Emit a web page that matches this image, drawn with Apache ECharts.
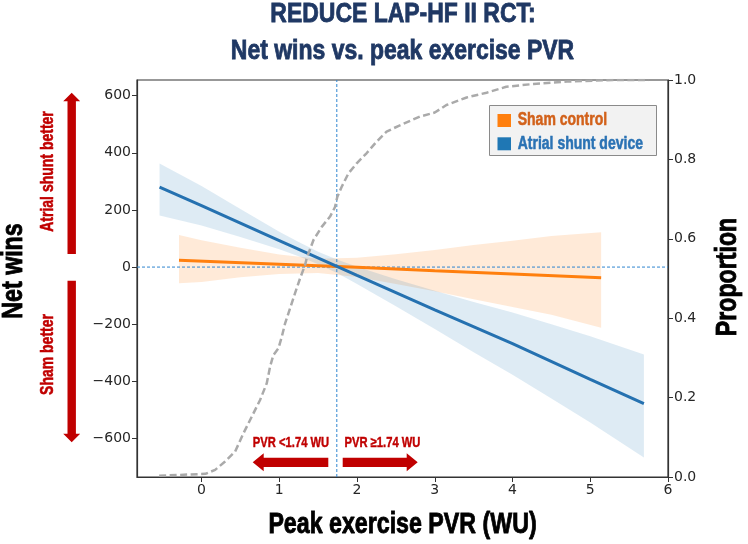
<!DOCTYPE html>
<html>
<head>
<meta charset="utf-8">
<script src="https://cdn.jsdelivr.net/npm/echarts@6/dist/echarts.min.js"></script>
<style>
html,body{margin:0;padding:0;background:#fff;}
#chart{width:748px;height:544px;}
</style>
</head>
<body>
<div id="chart"></div>
<script>
// ---------------- data ----------------
const xTicks = [0, 1, 2, 3, 4, 5, 6];
const yLeftTicks = [-600, -400, -200, 0, 200, 400, 600];
const xRange = [-0.83, 6];
const yLeftRange = [-735, 655];
const cutoff = 1.74;
const legendNames = ['Sham control', 'Atrial shunt device'];

// Atrial shunt device: fitted net wins
const shuntLine = [[-0.54, 280], [0, 215], [1, 93], [2, -29], [3, -150], [4, -268], [5, -393], [5.69, -478]];
// Atrial shunt device: confidence band [x, lower, upper]
const shuntBand = [[-0.54, 181, 363], [0, 146, 284], [0.5, 105, 203], [1, 62, 124], [1.25, 38, 88], [1.5, 10, 54],
  [1.75, -22, 26], [2, -59, 1], [2.5, -137, -43], [3, -217, -83], [3.5, -298, -122], [4, -377, -159],
  [4.5, -460, -200], [5, -544, -242], [5.69, -667, -306]];

// Sham control: fitted net wins
const shamLine = [[-0.29, 24], [1, 10], [2, -1], [3, -13], [4, -24], [5.14, -37]];
// Sham control: confidence band [x, lower, upper]
const shamBand = [[-0.29, -57, 112], [0, -52, 94], [0.5, -36, 68], [1, -24, 44], [1.5, -21, 29], [2, -35, 33],
  [2.5, -59, 45], [3, -85, 60], [3.5, -113, 77], [4, -140, 92], [4.5, -167, 109], [5.14, -212, 122]];

// Cumulative proportion of patients by peak exercise PVR (right axis)
const cdf = [[-0.545, 0.003], [0.05, 0.008], [0.175, 0.018], [0.303, 0.039], [0.432, 0.064], [0.539, 0.11],
  [0.646, 0.152], [0.753, 0.194], [0.839, 0.236], [0.882, 0.278], [0.924, 0.307], [0.989, 0.324],
  [1.032, 0.353], [1.075, 0.387], [1.139, 0.425], [1.203, 0.463], [1.267, 0.5], [1.332, 0.534],
  [1.353, 0.551], [1.44, 0.597], [1.546, 0.63], [1.653, 0.656], [1.717, 0.68], [1.747, 0.706],
  [1.803, 0.731], [1.89, 0.765], [1.996, 0.79], [2.125, 0.816], [2.253, 0.845], [2.38, 0.87],
  [2.53, 0.884], [2.81, 0.908], [3.0, 0.918], [3.15, 0.937], [3.41, 0.956], [3.667, 0.968],
  [3.92, 0.983], [4.27, 0.99], [4.70, 0.996], [5.29, 1.0], [5.75, 1.0]];

// ---------------- chart ----------------
const CONDENSED = "'Liberation Sans', Arial, sans-serif";
const TICKFONT = "'DejaVu Sans', sans-serif";
const RED = '#c00000';
const REF_BLUE = '#2f86d0';
const TICK_COLOR = '#262626';
const NARROW_SCALE = 0.8;

function bandRenderer(band, fill) {
  return function (params, api) {
    if (params.dataIndex !== 0) return null;
    const pts = [];
    for (let i = 0; i < band.length; i++) pts.push(api.coord([band[i][0], band[i][2]]));
    for (let i = band.length - 1; i >= 0; i--) pts.push(api.coord([band[i][0], band[i][1]]));
    return { type: 'polygon', shape: { points: pts }, style: { fill: fill } };
  };
}

// condensed heavy text (horizontally squeezed like a narrow typeface, lightly stroked for weight)
function txt(text, x, y, size, color, opts) {
  opts = opts || {};
  return {
    type: 'text', z: 100, silent: true, x: x, y: y,
    rotation: opts.rot || 0, scaleX: opts.scaleX || NARROW_SCALE, scaleY: 1,
    style: { text: text, x: 0, y: 0, align: opts.align || 'center', verticalAlign: 'middle',
      font: 'bold ' + size + 'px ' + CONDENSED, fill: color,
      stroke: color, lineWidth: opts.weight !== undefined ? opts.weight : size * 0.03 }
  };
}

function hArrow(tipX, tailX, cy, dir) {
  const headLen = 11, headHalf = 9, shaftHalf = 4.6;
  const baseX = tipX - dir * headLen;
  return {
    type: 'polygon', silent: true, z: 100,
    shape: { points: [[tailX, cy - shaftHalf], [baseX, cy - shaftHalf], [baseX, cy - headHalf], [tipX, cy],
      [baseX, cy + headHalf], [baseX, cy + shaftHalf], [tailX, cy + shaftHalf]] },
    style: { fill: RED }
  };
}
function vArrow(tipY, tailY, cx, dir) {
  const headLen = 8.5, headHalf = 8.5, shaftHalf = 4.2;
  const baseY = tipY - dir * headLen;
  return {
    type: 'polygon', silent: true, z: 100,
    shape: { points: [[cx - shaftHalf, tailY], [cx - shaftHalf, baseY], [cx - headHalf, baseY], [cx, tipY],
      [cx + headHalf, baseY], [cx + shaftHalf, baseY], [cx + shaftHalf, tailY]] },
    style: { fill: RED }
  };
}

const chart = echarts.init(document.getElementById('chart'), null, { renderer: 'canvas' });

const refLineStyle = { color: REF_BLUE, width: 1, type: [3, 2] };

const option = {
  backgroundColor: '#ffffff',
  animation: false,
  grid: { left: 137, right: 80, top: 80, bottom: 67, show: true, borderColor: '#333', borderWidth: 1.2, backgroundColor: 'transparent' },
  xAxis: {
    type: 'value', min: xRange[0], max: xRange[1],
    axisLine: { show: true, onZero: false, lineStyle: { color: '#333', width: 1.2 } },
    axisTick: { show: true, inside: false, length: 5, customValues: xTicks, lineStyle: { color: '#333' } },
    axisLabel: { customValues: xTicks, color: TICK_COLOR, fontFamily: TICKFONT, fontSize: 14, margin: 6 },
    splitLine: { show: false }
  },
  yAxis: [
    {
      type: 'value', min: yLeftRange[0], max: yLeftRange[1], position: 'left',
      axisLine: { show: true, onZero: false, lineStyle: { color: '#333', width: 1.2 } },
      axisTick: { show: true, inside: false, length: 5, customValues: yLeftTicks, lineStyle: { color: '#333' } },
      axisLabel: { customValues: yLeftTicks, color: TICK_COLOR, fontFamily: TICKFONT, fontSize: 14, margin: 6,
        formatter: v => (v < 0 ? '\u2212' + Math.abs(v) : String(v)) },
      splitLine: { show: false }
    },
    {
      type: 'value', min: 0, max: 1, interval: 0.2, position: 'right',
      axisLine: { show: true, onZero: false, lineStyle: { color: '#333', width: 1.2 } },
      axisTick: { show: true, inside: false, length: 5, lineStyle: { color: '#333' } },
      axisLabel: { color: TICK_COLOR, fontFamily: TICKFONT, fontSize: 14, margin: 6, formatter: v => v.toFixed(1) },
      splitLine: { show: false }
    }
  ],
  series: [
    {
      type: 'custom', name: 'shamBand', z: 1, silent: true,
      data: shamBand, encode: { x: 0, y: [1, 2] },
      renderItem: bandRenderer(shamBand, 'rgba(255,127,14,0.16)')
    },
    {
      type: 'custom', name: 'shuntBand', z: 1, silent: true,
      data: shuntBand, encode: { x: 0, y: [1, 2] },
      renderItem: bandRenderer(shuntBand, 'rgba(31,119,180,0.15)')
    },
    {
      type: 'line', name: 'cutoffLine', z: 2, silent: true, showSymbol: false,
      data: [[cutoff, yLeftRange[0]], [cutoff, yLeftRange[1]]],
      lineStyle: refLineStyle
    },
    {
      type: 'line', name: 'zeroLine', z: 2, silent: true, showSymbol: false,
      data: [[xRange[0], 0], [xRange[1], 0]],
      lineStyle: refLineStyle
    },
    {
      type: 'line', name: legendNames[0], z: 3, data: shamLine, showSymbol: false, silent: true,
      color: '#ff7f0e', lineStyle: { color: '#ff7f0e', width: 3 }
    },
    {
      type: 'line', name: legendNames[1], z: 4, data: shuntLine, showSymbol: false, silent: true,
      color: '#1f77b4', lineStyle: { color: '#2571b0', width: 3 }
    },
    {
      type: 'line', name: 'cdf', yAxisIndex: 1, z: 5, data: cdf, showSymbol: false, silent: true,
      lineStyle: { color: '#aaaaaa', width: 2.5, type: [7, 3.5] }
    }
  ],
  graphic: [
    // titles
    txt('REDUCE LAP-HF II RCT:', 403, 14, 28, '#1f3864', { scaleX: 0.82 }),
    txt('Net wins vs. peak exercise PVR', 402.5, 51, 28, '#1f3864', { scaleX: 0.82 }),
    txt('Peak exercise PVR (WU)', 402.5, 525, 29, '#000'),
    txt('Net wins', 14, 271, 29, '#000', { rot: Math.PI / 2 }),
    txt('Proportion', 728, 277, 29, '#000', { rot: Math.PI / 2 }),
    // legend box
    { type: 'rect', z: 90, silent: true, shape: { x: 489.5, y: 105.5, width: 167, height: 50 },
      style: { fill: '#f2f2f2', stroke: '#8a8a8a', lineWidth: 1 } },
    { type: 'rect', z: 95, silent: true, shape: { x: 497.5, y: 114, width: 13.5, height: 13 }, style: { fill: '#ff7f0e' } },
    { type: 'rect', z: 95, silent: true, shape: { x: 497.5, y: 137.3, width: 13.5, height: 13 }, style: { fill: '#1f77b4' } },
    txt(legendNames[0], 517.7, 120.6, 17.5, '#d2611a', { align: 'left' }),
    txt(legendNames[1], 517.7, 143.9, 17.5, '#2a72b4', { align: 'left' }),
    // red annotations
    txt('Atrial shunt better', 48.5, 171.5, 17.5, RED, { rot: Math.PI / 2 }),
    txt('Sham better', 48.5, 354.5, 17.5, RED, { rot: Math.PI / 2 }),
    vArrow(92.7, 254, 71.7, -1),
    vArrow(442.3, 280.7, 71.7, 1),
    txt('PVR <1.74 WU', 291, 443.5, 14, RED),
    txt('PVR \u22651.74 WU', 382.5, 443.5, 14, RED),
    hArrow(252.7, 328.3, 462.3, -1),
    hArrow(417.7, 342.7, 462.3, 1)
  ]
};
chart.setOption(option);
</script>
</body>
</html>
